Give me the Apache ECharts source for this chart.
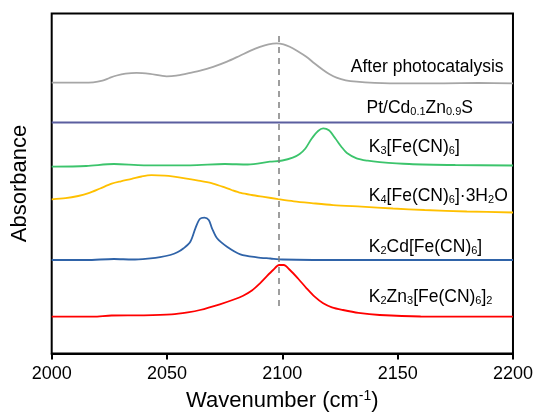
<!DOCTYPE html>
<html>
<head>
<meta charset="utf-8">
<title>IR spectra</title>
<script src="https://cdn.jsdelivr.net/npm/echarts@6/dist/echarts.min.js"></script>
<style>
    html, body { margin: 0; padding: 0; background: #fff; }
    #chart_line { width: 536px; height: 417px; }
</style>
</head>
<body>
<div id="chart_line"></div>
<script>
    // x: wavenumber (cm-1), y: absorbance with the offsets of the stacked plot (a.u.)
    var afterPhoto = [[2000,270.8],[2012,270.9],[2018,271.2],[2022,272.8],[2025,275.5],[2028.2,278],[2032,279.8],[2036.8,280.6],[2042.6,279.6],[2049.8,277.2],[2054,277.8],[2058.5,279.8],[2064,282.6],[2070,286.6],[2076,291.8],[2081.6,297.8],[2086,302.6],[2090.3,306.6],[2094,309.2],[2097.5,310.2],[2100.5,309.2],[2103.2,306.8],[2106.5,302.6],[2110.4,296.8],[2114,290],[2117.7,283.5],[2120.5,279.2],[2123.5,275.8],[2127.5,273.2],[2132.2,271.8],[2140,270.6],[2146.6,270.2],[2170,270.2],[2185,270.5],[2200,270.2]];
    var ptCdZnS = [[2000,231],[2050,231],[2100,231],[2150,231],[2200,231]];
    var k3Fe = [[2000,186.8],[2015,187.5],[2027,189.5],[2040,188.2],[2060,188.2],[2075,189.5],[2085,189],[2094.6,191.8],[2100,193],[2104.5,195.8],[2107.5,199.5],[2110,205],[2112.6,214.5],[2115.5,222.5],[2117.7,225.2],[2120.2,223.2],[2123,215],[2125.5,207],[2128,200.5],[2132.2,195.2],[2137,192.8],[2142.2,191.4],[2155,189.5],[2175,188.5],[2200,188]];
    var k4Fe = [[2000,154.2],[2006,155.3],[2011.5,157.5],[2016,160.3],[2021,165],[2026,169.8],[2030,172.2],[2034.7,174.6],[2039,177],[2043.3,178.3],[2049,177.8],[2053,176.8],[2057.8,175.2],[2063,173.2],[2069.3,170.4],[2074,166.8],[2078,163.5],[2082,160.6],[2086.7,158.5],[2092,156.6],[2098.2,154.4],[2105,152.2],[2112.6,150.4],[2122,148.4],[2134.3,146.8],[2148,145],[2161.7,143.5],[2180,142],[2200,141]];
    var k2CdFe = [[2000,93.5],[2015,93.5],[2027,94.5],[2035,94],[2042.8,95.2],[2047,96.4],[2051.4,98.5],[2054.5,101.2],[2057.2,105.2],[2060.1,111.8],[2062.3,125.2],[2064.2,134.5],[2066.2,135.8],[2068.1,133.5],[2069.5,125.2],[2071.7,115.2],[2076,106.8],[2081.8,99.2],[2089,96.2],[2094.8,95],[2100,94],[2130,93.5],[2200,93.5]];
    var k2Zn3Fe = [[2000,36.8],[2018,36.9],[2026,38],[2040,38.2],[2052,39.2],[2059,41.2],[2064.3,43.5],[2072.9,49.2],[2079,54],[2083,57.8],[2086.8,63],[2090.3,70.2],[2093.3,77.4],[2096,83.5],[2098.6,88.5],[2100.6,88.5],[2103.3,83.5],[2106.8,75],[2110.5,65.2],[2114,56.8],[2117.7,50.2],[2121.5,46.2],[2126.3,43.5],[2133,40.6],[2142.2,38.5],[2160,37],[2200,36.8]];

    var seriesNames = ['After photocatalysis', 'Pt/Cd0.1Zn0.9S', 'K3[Fe(CN)6]', 'K4[Fe(CN)6]·3H2O', 'K2Cd[Fe(CN)6]', 'K2Zn3[Fe(CN)6]2'];
    var seriesData = [afterPhoto, ptCdZnS, k3Fe, k4Fe, k2CdFe, k2Zn3Fe];
    var seriesColors = ['#a6a6a6', '#5b5e9f', '#3cc46c', '#ffc000', '#2f63a8', '#ff0000'];

    // label texts (rich) and where they sit, in data units
    var labelTexts = [
        'After photocatalysis',
        'Pt/Cd{s|0.1}Zn{s|0.9}S',
        'K{s|3}[Fe(CN){s|6}]',
        'K{s|4}[Fe(CN){s|6}]·3H{s|2}O',
        'K{s|2}Cd[Fe(CN){s|6}]',
        'K{s|2}Zn{s|3}[Fe(CN){s|6}]{s|2}'
    ];
    var labelX = [2129.7, 2136.5, 2137.5, 2137.5, 2137.5, 2137.5];
    var labelY = [286.3, 245.2, 206.5, 157.5, 106.5, 56.5];

    var xTicks = [2000, 2050, 2100, 2150, 2200];
    var peakLine = [[2098.6, 317.5], [2098.6, 43.5]];

    var font = 'Liberation Sans, Arial, sans-serif';
    var myChart = echarts.init(document.getElementById('chart_line'));

    var series = [];
    for (var i = 0; i < seriesData.length; i++) {
        series.push({
            name: seriesNames[i],
            type: 'line',
            smooth: 0.3,
            symbol: 'none',
            data: seriesData[i],
            lineStyle: { color: seriesColors[i], width: 1.8 },
            z: 3
        });
    }
    series[0].markLine = {
        silent: true,
        symbol: 'none',
        label: { show: false },
        lineStyle: { color: '#7f7f7f', type: [6, 5], width: 1.5 },
        data: [[{ coord: peakLine[0] }, { coord: peakLine[1] }]]
    };

    var option = {
        animation: false,
        grid: {
            left: 51.7,
            right: 22.7,
            top: 13.5,
            bottom: 63.5,
            show: true,
            borderColor: '#000',
            borderWidth: 2
        },
        xAxis: {
            type: 'value',
            min: xTicks[0],
            max: xTicks[xTicks.length - 1],
            interval: 50,
            name: 'Wavenumber (cm{sup|-1})',
            nameLocation: 'middle',
            nameGap: 36,
            nameTextStyle: {
                fontFamily: font,
                fontSize: 22,
                color: '#000',
                rich: {
                    sup: { fontFamily: font, fontSize: 14, color: '#000', verticalAlign: 'top', lineHeight: 10 }
                }
            },
            axisLine: { show: true, lineStyle: { color: '#000', width: 2 } },
            axisTick: { show: true, length: 6, lineStyle: { color: '#000', width: 2 } },
            axisLabel: {
                fontFamily: font, fontSize: 18, color: '#000', margin: 12,
                formatter: function (v) { return String(v); }
            },
            splitLine: { show: false }
        },
        yAxis: {
            type: 'value',
            min: 0,
            max: 340,
            name: 'Absorbance',
            nameLocation: 'middle',
            nameGap: 21,
            nameTextStyle: { fontFamily: font, fontSize: 22, color: '#000' },
            axisLine: { show: false },
            axisTick: { show: false },
            axisLabel: { show: false },
            splitLine: { show: false }
        },
        series: series
    };
    myChart.setOption(option);

    var texts = [];
    for (var j = 0; j < labelTexts.length; j++) {
        var p = myChart.convertToPixel({ gridIndex: 0 }, [labelX[j], labelY[j]]);
        texts.push({
            type: 'text',
            x: p[0],
            y: p[1],
            style: {
                text: labelTexts[j],
                fontFamily: font,
                fontSize: 17.5,
                fill: '#000',
                verticalAlign: 'middle',
                align: 'left',
                rich: {
                    s: { fontFamily: font, fontSize: 11, fill: '#000', verticalAlign: 'bottom', lineHeight: 8 }
                }
            }
        });
    }
    myChart.setOption({ graphic: texts });
</script>
</body>
</html>
